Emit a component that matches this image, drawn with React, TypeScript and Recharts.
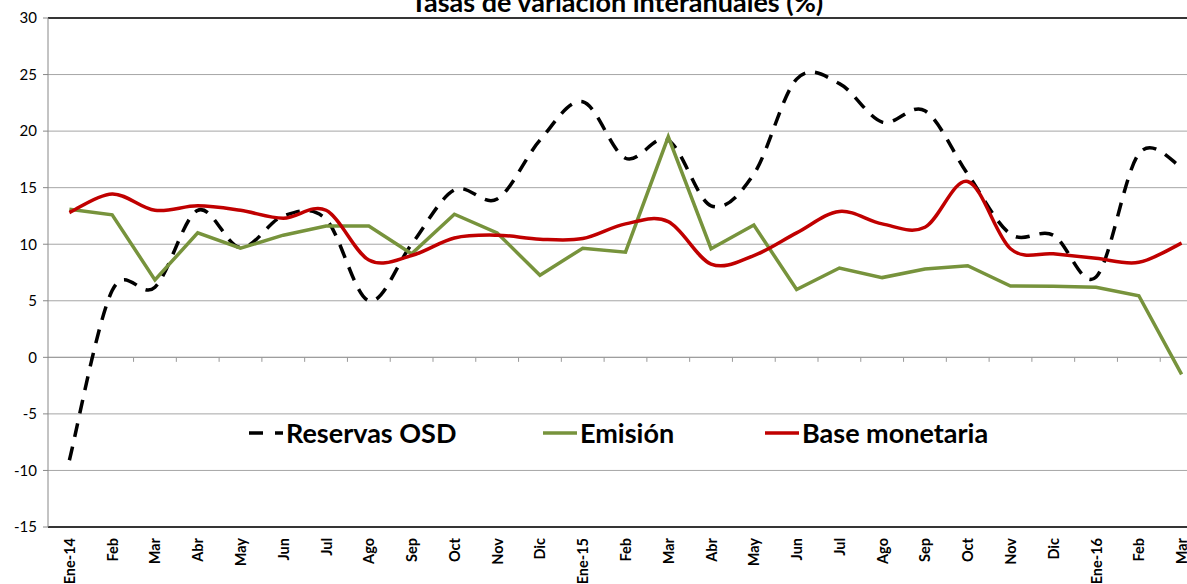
import { LineChart, Line, XAxis, YAxis, CartesianGrid, Legend, ReferenceLine } from 'recharts';

const months = [
  'Ene-14', 'Feb', 'Mar', 'Abr', 'May', 'Jun', 'Jul', 'Ago', 'Sep', 'Oct', 'Nov', 'Dic',
  'Ene-15', 'Feb', 'Mar', 'Abr', 'May', 'Jun', 'Jul', 'Ago', 'Sep', 'Oct', 'Nov', 'Dic',
  'Ene-16', 'Feb', 'Mar',
];

const reservas = [
  -9.1, 5.9, 6.2, 13.0, 9.7, 12.5, 12.2, 5.0, 10.0, 14.8, 14.0, 19.2,
  22.6, 17.6, 19.2, 13.4, 16.2, 24.6, 24.2, 20.8, 21.8, 16.2, 10.9, 10.8,
  7.1, 18.0, 16.8,
];

const emision = [
  13.1, 12.6, 6.85, 11.0, 9.65, 10.8, 11.6, 11.6, 9.15, 12.65, 11.0, 7.25,
  9.65, 9.3, 19.5, 9.6, 11.7, 6.0, 7.9, 7.05, 7.8, 8.1, 6.3, 6.28,
  6.2, 5.45, -1.5,
];

const baseMonetaria = [
  12.8, 14.45, 13.0, 13.4, 13.0, 12.3, 13.0, 8.6, 9.0, 10.55, 10.8, 10.45,
  10.5, 11.8, 12.0, 8.25, 9.0, 11.0, 12.9, 11.8, 11.5, 15.55, 9.6, 9.15,
  8.75, 8.4, 10.1,
];

const yTicks = [-15, -10, -5, 0, 5, 10, 15, 20, 25, 30];

const data = months.map((m, i) => ({
  i,
  m,
  reservas: reservas[i],
  emision: emision[i],
  base: baseMonetaria[i],
}));

// Excel-style smoothed line (cardinal spline through the points)
function excelSmooth(context: any) {
  let pts: number[][] = [];
  return {
    areaStart() {},
    areaEnd() {},
    lineStart() {
      pts = [];
    },
    point(x: number, y: number) {
      pts.push([+x, +y]);
    },
    lineEnd() {
      const n = pts.length;
      if (!n) return;
      context.moveTo(pts[0][0], pts[0][1]);
      for (let k = 0; k < n - 1; k++) {
        const p0 = pts[Math.max(k - 1, 0)];
        const p1 = pts[k];
        const p2 = pts[k + 1];
        const p3 = pts[Math.min(k + 2, n - 1)];
        context.bezierCurveTo(
          p1[0] + (p2[0] - p0[0]) / 6,
          p1[1] + (p2[1] - p0[1]) / 6,
          p2[0] - (p3[0] - p1[0]) / 6,
          p2[1] - (p3[1] - p1[1]) / 6,
          p2[0],
          p2[1]
        );
      }
    },
  };
}

const FONT = 'Lato, "Open Sans", sans-serif';

const MonthTick = (props: any) => {
  const { x, y, payload } = props;
  const ty = y + 3;
  return (
    <text
      x={x}
      y={ty}
      transform={`rotate(-90 ${x} ${ty})`}
      textAnchor="end"
      dominantBaseline="central"
      fontSize={14.5}
      fontWeight={700}
      fontFamily={FONT}
      fill="#000"
    >
      {months[payload.value]}
    </text>
  );
};

const legendItems = [
  { name: 'Reservas OSD', color: '#000', dash: '14 12', left: 0 },
  { name: 'Emisión', color: '#77933c', dash: undefined, left: 294 },
  { name: 'Base monetaria', color: '#c00000', dash: undefined, left: 516 },
];

const ChartLegend = () => (
  <div style={{ position: 'relative', width: 760, height: 32 }}>
    {legendItems.map((it) => (
      <div
        key={it.name}
        style={{
          position: 'absolute',
          left: it.left,
          top: 0,
          height: 32,
          display: 'flex',
          alignItems: 'center',
          whiteSpace: 'nowrap',
        }}
      >
        <svg width={34} height={32} style={{ display: 'block' }}>
          <line x1={0} y1={16} x2={34} y2={16} stroke={it.color} strokeWidth={3.5} strokeDasharray={it.dash} />
        </svg>
        <span
          style={{
            marginLeft: 3,
            fontFamily: FONT,
            fontWeight: 700,
            fontSize: 27,
            color: '#000',
            lineHeight: '32px',
          }}
        >
          {it.name}
        </span>
      </div>
    ))}
  </div>
);

export default function App() {
  return (
    <div
      style={{
        position: 'absolute',
        left: 0,
        top: 0,
        width: 1187,
        height: 584,
        overflow: 'hidden',
        background: '#fff',
        fontFamily: FONT,
      }}
    >
      <LineChart width={1203} height={584} data={data} margin={{ top: 18, right: 0, left: 0, bottom: 0 }}>
        <text x={617} y={12} textAnchor="middle" fontSize={27} fontWeight={700} fontFamily={FONT} fill="#000">
          Tasas de variación interanuales (%)
        </text>
        <CartesianGrid vertical={false} stroke="#a6a6a6" strokeWidth={1} />
        <XAxis
          type="number"
          dataKey="i"
          domain={[-0.5, 26.5]}
          ticks={months.map((_, i) => i)}
          interval={0}
          tick={<MonthTick />}
          tickLine={false}
          axisLine={{ stroke: '#000', strokeWidth: 1.5 }}
          height={57}
        />
        <YAxis
          domain={[-15, 30]}
          ticks={yTicks}
          interval={0}
          width={48}
          tickSize={5}
          tickMargin={6}
          tickLine={{ stroke: '#888' }}
          axisLine={{ stroke: '#888' }}
          tick={{ fontSize: 15, fill: '#000', fontFamily: FONT }}
        />
        <ReferenceLine y={30} stroke="#000" strokeWidth={1.5} />
        <ReferenceLine y={0} stroke="#999" strokeWidth={1} />
        {months.slice(1).map((_, k) => (
          <ReferenceLine
            key={k}
            segment={[
              { x: k + 0.5, y: 0 },
              { x: k + 0.5, y: -0.4 },
            ]}
            stroke="#999"
            strokeWidth={1}
          />
        ))}
        <Legend
          verticalAlign="middle"
          align="center"
          layout="horizontal"
          wrapperStyle={{ left: 249, top: 417, width: 760, height: 32 }}
          content={() => <ChartLegend />}
        />
        <Line
          dataKey="reservas"
          name="Reservas OSD"
          type={excelSmooth as any}
          stroke="#000"
          strokeWidth={3.5}
          strokeDasharray="14 10"
          dot={false}
          isAnimationActive={false}
        />
        <Line
          dataKey="emision"
          name="Emisión"
          type="linear"
          stroke="#77933c"
          strokeWidth={3.5}
          dot={false}
          isAnimationActive={false}
        />
        <Line
          dataKey="base"
          name="Base monetaria"
          type={excelSmooth as any}
          stroke="#c00000"
          strokeWidth={3.5}
          dot={false}
          isAnimationActive={false}
        />
      </LineChart>
    </div>
  );
}
